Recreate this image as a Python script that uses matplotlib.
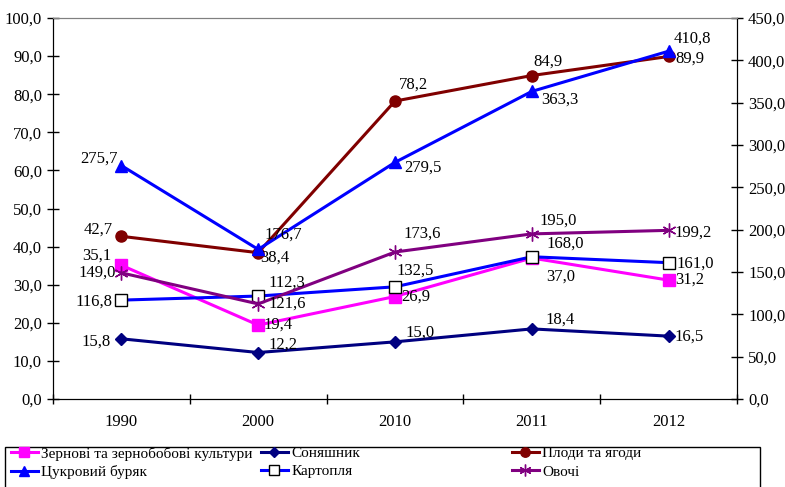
import numpy as np
import matplotlib.pyplot as plt
from matplotlib.patches import Rectangle

plt.rcParams['font.family'] = ['Liberation Serif', 'DejaVu Serif']
plt.rcParams['font.size'] = 12

# === Data ===
years = ['1990', '2000', '2010', '2011', '2012']
grain = [35.1, 19.4, 26.9, 37.0, 31.2]
sunflower = [15.8, 12.2, 15.0, 18.4, 16.5]
fruits = [42.7, 38.4, 78.2, 84.9, 89.9]
sugar_beet = [275.7, 176.7, 279.5, 363.3, 410.8]
potato = [116.8, 121.6, 132.5, 168.0, 161.0]
vegetables = [149.0, 112.3, 173.6, 195.0, 199.2]

# label offsets in pixels (dx, dy)
off_grain = [(-25, 10), (20, 0), (21, 0), (29, -19), (21, 0)]
off_sunflower = [(-25, -3), (25, 8), (25, 9), (28, 9), (21, -1)]
off_fruits = [(-23, 7), (17, -5), (18, 16), (16, 14), (21, -2)]
off_sugar = [(-22, 7), (25, 15), (28, -5), (28, -8), (24, 13)]
off_potato = [(-27, -2), (29, -8), (20, 16), (33, 13), (27, -1)]
off_veg = [(-24, 0), (29, 21), (27, 18), (26, 13), (25, -2)]

x = np.arange(len(years))

fig = plt.figure(figsize=(7.85, 4.87), dpi=100)
ax = fig.add_axes([53/785, 1 - 399/487, (737 - 53)/785, (399 - 18)/487])
ax2 = ax.twinx()

def fmt(v):
    return f'{v:.1f}'.replace('.', ',')

def draw(a, vals, offs, **kw):
    line, = a.plot(x, vals, lw=2.2, clip_on=False, **kw)
    for xi, v, o in zip(x, vals, offs):
        a.annotate(fmt(v), (xi, v), xytext=o, textcoords='offset pixels',
                   ha='center', va='center', fontsize=12)
    return line

h_grain = draw(ax, grain, off_grain, color='#FF00FF', marker='s', ms=8,
               label='Зернові та зернобобові культури')
h_sun = draw(ax, sunflower, off_sunflower, color='#000080', marker='D', ms=6,
             label='Соняшник')
h_fruit = draw(ax, fruits, off_fruits, color='#800000', marker='o', ms=8,
               label='Плоди та ягоди')
h_sugar = draw(ax2, sugar_beet, off_sugar, color='#0000FF', marker='^', ms=9,
               label='Цукровий буряк')
h_potato = draw(ax2, potato, off_potato, color='#0000FF', marker='s', ms=9,
                mfc='white', mec='black', mew=1.0, label='Картопля')
h_veg = draw(ax2, vegetables, off_veg, color='#800080', marker=(6, 2, 0), ms=10,
             mew=1.0, label='Овочі')

# === Axes ===
ax.set_xlim(-0.5, 4.5)
ax.set_ylim(0, 100)
ax2.set_ylim(0, 450)
ax.set_xticks(x)
ax.set_xticklabels(years)
ax.set_xticks(np.arange(-0.5, 5, 1), minor=True)
ax.tick_params(axis='x', which='major', length=0, pad=11)
ax.tick_params(axis='x', which='minor', direction='inout', length=7, width=1)
ax.set_yticks(np.arange(0, 101, 10))
ax.set_yticklabels([fmt(v) for v in np.arange(0, 101, 10)])
ax.tick_params(axis='y', direction='inout', length=8, width=1, pad=4)
ax2.set_yticks(np.arange(0, 451, 50))
ax2.set_yticklabels([fmt(v) for v in np.arange(0, 451, 50)])
ax2.tick_params(axis='y', direction='inout', length=8, width=1, pad=4)

for a in (ax, ax2):
    a.spines['top'].set_color('#808080')
    a.spines['left'].set_color('black')
    a.spines['right'].set_color('black')
    a.spines['bottom'].set_color('black')

# === Legend ===
fig.patches.append(Rectangle((5/785, -0.01), 755/785, 45/487, transform=fig.transFigure,
                             fill=False, edgecolor='black', lw=1))
cols = [[h_grain, h_sugar], [h_sun, h_potato], [h_fruit, h_veg]]
xs = [9/785, 259/785, 510/785]
for hs, xl in zip(cols, xs):
    fig.legend(handles=hs, loc='upper left', bbox_to_anchor=(xl, 42/487),
               frameon=False, handlelength=1.8, handletextpad=0.2, markerscale=0.85,
               labelspacing=0.3, borderaxespad=0, borderpad=0.1, fontsize=11)

fig.savefig('out.png', dpi=100)
